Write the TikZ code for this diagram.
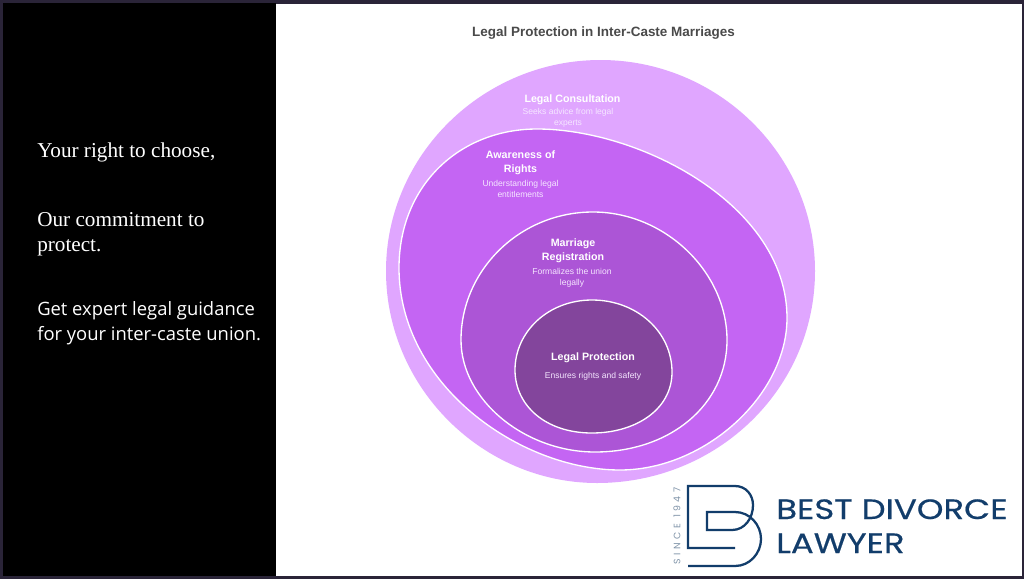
\documentclass[tikz,border=0pt]{standalone}
\usepackage{fontspec}
\setmainfont{Liberation Serif}
\newfontfamily\uifont{Liberation Sans}
\newfontfamily\logofont[FakeStretch=1.21,FakeBold=0.5]{Poppins}
\newfontfamily\sincefont[LetterSpace=38]{Poppins}
\newfontfamily\sidefont{Open Sans}
\definecolor{frameC}{HTML}{2A2438}
\definecolor{lay1}{HTML}{E0A6FF}
\definecolor{lay2}{HTML}{C465F3}
\definecolor{lay3}{HTML}{AC55D6}
\definecolor{lay4}{HTML}{83459C}
\definecolor{logoC}{HTML}{123D6B}
\definecolor{sinceC}{HTML}{7F93A8}
\definecolor{titleC}{HTML}{4A4A4A}
\definecolor{subC}{HTML}{F5E6FF}
\tikzset{
  blob/.style={draw=white,line width=1pt},
  headT/.style={font=\uifont\bfseries\fontsize{8}{10.5}\selectfont,text=white,align=center,inner sep=0pt},
  subT/.style={font=\uifont\fontsize{6.4}{8}\selectfont,text=subC,align=center,inner sep=0pt},
  serifT/.style={font=\fontsize{15.9}{21}\selectfont,text=white,anchor=base west,inner sep=0pt},
  sansT/.style={font=\sidefont\fontsize{13.8}{21}\selectfont,text=white,anchor=base west,inner sep=0pt},
  logoT/.style={font=\logofont\fontsize{21}{24}\selectfont,text=logoC,anchor=base west,inner sep=0pt},
  logoL/.style={draw=logoC,line width=1.7pt}
}
\begin{document}
\begin{tikzpicture}[x=0.75pt,y=-0.75pt]
\useasboundingbox (0,0) rectangle (1024,579);
\fill[frameC] (0,0) rectangle (1024,579);
\fill[black] (3,3) rectangle (276,576);
\fill[white] (276,4) rectangle (1022,576);
% blobs
\path[fill=lay1] (600.5,60) .. controls (718,60) and (815,155) .. (815,271) .. controls (815,388) and (718,483) .. (597,483) .. controls (483,483) and (386,388) .. (386,271) .. controls (386,155) and (483,60) .. (600.5,60) -- cycle;
\draw[blob,fill=lay2] (537,129) .. controls (640,129) and (787,205) .. (787,318) .. controls (787,395) and (705,470) .. (620,470) .. controls (520,470) and (399,385) .. (399,268) .. controls (399,185) and (460,129) .. (537,129) -- cycle;
\draw[blob,fill=lay3] (593,212) .. controls (665,212) and (727,272) .. (727,340) .. controls (727,405) and (670,452) .. (595,452) .. controls (525,452) and (461,400) .. (461,340) .. controls (461,270) and (520,212) .. (593,212) -- cycle;
\draw[blob,fill=lay4] (592,300) .. controls (637,300) and (672,332) .. (672,372) .. controls (672,410) and (635,433) .. (592,433) .. controls (545,433) and (515,405) .. (515,370) .. controls (515,332) and (548,300) .. (592,300) -- cycle;
% title
\node[font=\uifont\bfseries\fontsize{10.1}{12}\selectfont,text=titleC,inner sep=0pt] (title) at (603.5,33) {Legal Protection in Inter-Caste Marriages};
\node[headT] (h1) at (572.5,100) {Legal Consultation};
\node[subT] (s1) at (568,118) {Seeks advice from legal\\experts};
\node[headT] (h2) at (520.5,163) {Awareness of\\Rights};
\node[subT] (s2) at (520.5,189) {Understanding legal\\entitlements};
\node[headT] (h3) at (573,251) {Marriage\\Registration};
\node[subT] (s3) at (572,278) {Formalizes the union\\legally};
\node[headT] (h4) at (593,358) {Legal Protection};
\node[subT] (s4) at (593,376) {Ensures rights and safety};
% left text
\node[serifT] (l1) at (37,157) {Your right to choose,};
\node[serifT] (l2) at (37,226) {Our commitment to};
\node[serifT] (l3) at (37,251) {protect.};
\node[sansT] (l4) at (37,315) {Get expert legal guidance};
\node[sansT] (l5) at (37,340) {for your inter-caste union.};
% logo
\draw[logoL] (735,548) -- (688,548) -- (688,486) -- (735,486) .. controls (746,486) and (753,495) .. (753,505) .. controls (753,518) and (745,530) .. (732,530) -- (707,530) -- (707,512) -- (735,512) .. controls (750,512) and (761,525) .. (761,539) .. controls (761,553) and (750,566) .. (735,566) -- (688,566);
\node[logoT] (b1) at (776,519) {BEST DIVORCE};
\node[logoT] (b2) at (776,553) {LAWYER};
\node[font=\sincefont\fontsize{7}{8}\selectfont,text=sinceC,rotate=90,inner sep=0pt] (since) at (677,526) {SINCE 1947};
\end{tikzpicture}
\end{document}
